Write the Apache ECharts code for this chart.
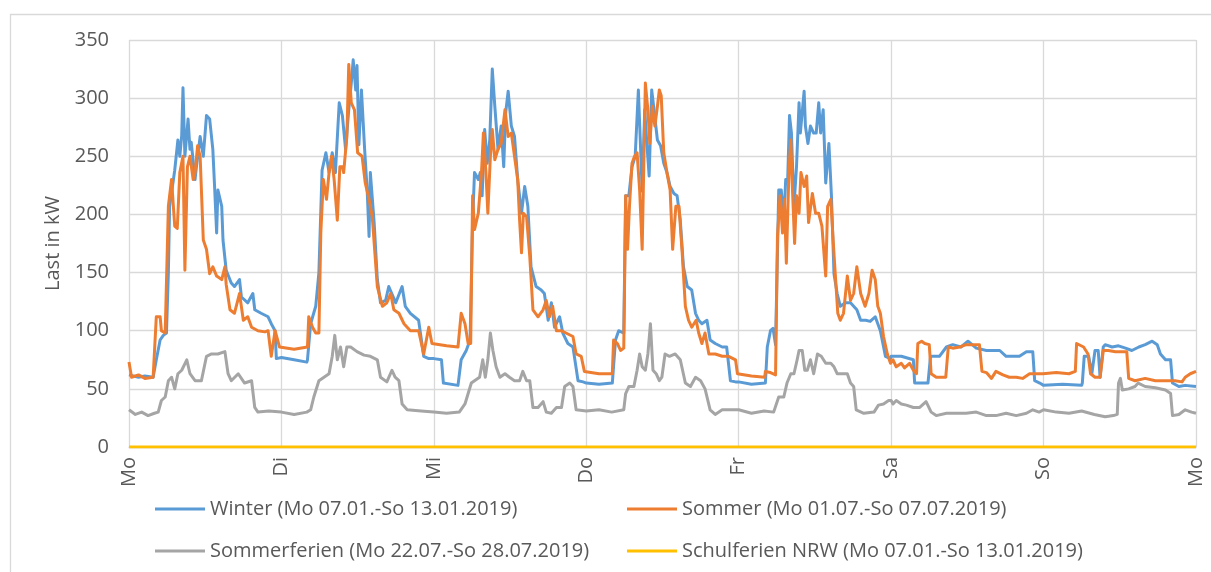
<!DOCTYPE html>
<html lang="de">
<head>
<meta charset="utf-8">
<title>Lastgang Schule</title>
<script src="https://cdn.jsdelivr.net/npm/echarts@6/dist/echarts.min.js"></script>
<style>
html,body{margin:0;padding:0;background:#fff;}
#chart{width:1211px;height:572px;}
</style>
</head>
<body>
<div id="chart"></div>
<script>
// Stunden seit Montag 0:00 -> Last in kW
var days = ['Mo', 'Di', 'Mi', 'Do', 'Fr', 'Sa', 'So', 'Mo'];

var winter = [
  [0,62],[1.5,60],[2.5,61],[3.8,60],[4.3,75],[4.9,92],[5.4,96],[5.9,98],[6.2,150],[6.4,207],[7.2,238],[7.7,264],[8.0,250],[8.3,268],[8.5,309],[8.8,250],[9.3,282],[9.6,256],[9.8,262],[10.4,230],[10.6,240],[11.2,267],[11.7,250],[12.2,285],[12.7,282],[13.2,256],[13.5,221],[13.8,184],[14.0,221],[14.6,207],[14.8,178],[15.3,152],[16.1,141],[16.6,138],[17.4,144],[17.7,129],[18.7,124],[19.5,132],[19.8,118],[20.8,115],[21.9,112],[22.4,106],[23.0,100],[23.2,76],
  [24,77],[26,75],[28,73],[28.1,75],[28.6,106],[29.4,121],[29.9,150],[30.4,238],[31.0,253],[31.5,236],[32.0,253],[32.5,236],[33.1,296],[33.6,285],[34.1,256],[34.6,290],[35.0,313],[35.3,333],[35.7,307],[35.9,328],[36.2,260],[36.6,307],[37.1,256],[37.5,221],[37.8,181],[38.0,236],[38.6,193],[39.1,144],[39.6,124],[40.4,126],[40.9,138],[42.0,124],[43.0,138],[43.5,121],[44.3,115],[45.6,109],[46.4,78],[47.2,76],
  [48,76],[49.2,75],[49.5,55],[51.8,53],[52.3,75],[53.1,83],[53.7,92],[54.1,193],[54.4,236],[55.0,230],[55.3,236],[55.6,216],[56.0,273],[56.4,244],[56.8,264],[57.2,325],[57.6,293],[58.1,256],[58.6,276],[59.0,241],[59.3,287],[59.7,306],[60.2,276],[60.7,267],[61.2,230],[61.8,201],[62.3,224],[62.8,207],[63.3,155],[64.1,138],[64.9,135],[65.4,132],[66.0,109],[66.5,124],[67.0,103],[67.8,112],[68.3,98],[69.1,89],[69.9,86],[70.7,57],[71.5,56],
  [72,55],[74,54],[76.1,55],[76.6,92],[77.1,100],[77.9,98],[78.2,216],[78.7,216],[79.2,241],[79.7,250],[80.2,307],[80.5,264],[80.8,220],[81.2,290],[81.6,256],[81.9,233],[82.3,307],[82.6,293],[83.2,264],[83.7,259],[84.2,244],[84.7,236],[85.2,224],[85.8,218],[86.3,216],[86.8,195],[87.3,155],[87.9,138],[88.6,135],[89.2,115],[89.7,109],[90.2,106],[91.0,109],[91.5,92],[92.3,89],[93.4,86],[94.1,86],[94.7,57],[95.5,56],
  [96,56],[98,54],[100.2,55],[100.5,86],[101.0,100],[101.4,102],[101.8,88],[102.3,221],[102.7,221],[103.1,195],[103.4,230],[103.7,228],[104.0,285],[104.3,270],[104.7,207],[105.1,241],[105.5,296],[105.7,270],[106.3,306],[106.5,276],[106.9,261],[107.3,276],[107.8,270],[108.2,270],[108.6,296],[108.9,270],[109.3,290],[109.7,227],[110.2,261],[110.6,216],[111.0,149],[111.5,132],[112.0,121],[112.8,124],[113.6,124],[114.6,118],[115.2,109],[116.0,109],[116.7,108],[117.5,112],[118.3,100],[119.1,78],[119.9,76],
  [120,78],[121.6,78],[123.5,75],[123.7,55],[125.8,55],[126.2,78],[127.6,78],[128.7,86],[129.7,88],[131.0,86],[132.1,91],[133.4,85],[135.0,83],[137.1,83],[138.1,78],[140.2,78],[141.3,82],[142.3,82],[142.6,57],[143.4,55],
  [144,53],[147,54],[150,53],[150.1,55],[150.4,78],[151.1,78],[151.6,63],[152.1,83],[152.6,83],[152.9,60],[153.4,86],[153.7,88],[154.8,86],[155.8,87],[156.9,85],[157.9,83],[159.0,86],[160.0,88],[161.1,91],[161.9,88],[162.4,80],[163.2,75],[164.0,75],[164.3,55],[165.3,52],[166.3,53],[168,52]
];

var sommer = [
  [0,73],[0.4,60],[1.5,62],[2.5,59],[3.8,60],[4.3,112],[4.9,112],[5.1,100],[5.7,98],[6.0,99],[6.2,207],[6.7,230],[7.2,190],[7.6,188],[8.0,236],[8.5,250],[8.8,152],[9.2,241],[9.6,250],[10.1,230],[10.4,236],[10.8,259],[11.2,250],[11.7,178],[12.2,170],[12.7,149],[13.2,155],[13.8,147],[14.6,144],[15.1,155],[15.3,140],[15.9,118],[16.6,115],[17.4,132],[18.0,109],[18.7,112],[19.3,103],[20.3,100],[21.4,99],[21.9,100],[22.4,78],[23.0,100],[23.7,86],
  [24,85],[26,84],[28.1,86],[28.3,112],[28.9,103],[29.4,98],[29.9,98],[30.2,184],[30.6,230],[31.1,213],[31.5,236],[31.9,250],[32.3,230],[32.8,195],[33.2,241],[33.6,241],[33.8,236],[34.3,267],[34.6,329],[35.0,296],[35.5,290],[36.0,253],[36.7,250],[37.2,227],[37.8,213],[38.3,198],[39.1,138],[39.9,121],[40.6,124],[41.2,132],[41.7,118],[42.5,115],[43.3,106],[44.3,100],[45.6,100],[46.4,80],[47.2,103],[47.7,89],
  [48,88],[50,87],[51.8,86],[52.3,115],[52.9,106],[53.4,89],[53.8,89],[54.1,216],[54.4,187],[55.0,201],[55.5,236],[55.8,270],[56.2,236],[56.5,201],[56.9,250],[57.2,273],[57.6,247],[58.1,256],[58.6,261],[59.2,290],[59.7,267],[60.2,270],[60.7,250],[61.2,230],[61.5,195],[61.8,167],[62.1,201],[62.6,198],[63.1,164],[63.6,118],[64.4,112],[65.2,118],[65.7,126],[66.2,112],[66.7,121],[67.3,100],[68.1,100],[68.8,98],[69.9,95],[70.4,80],[71.2,78],[71.7,65],
  [72,65],[74,63],[76.1,63],[76.3,92],[76.9,89],[77.4,83],[77.9,85],[78.2,216],[78.5,170],[78.8,207],[79.2,244],[79.6,250],[80.0,253],[80.4,221],[80.8,170],[81.1,256],[81.3,313],[81.7,290],[82.0,261],[82.4,293],[82.8,276],[83.2,293],[83.5,307],[83.8,302],[84.2,253],[84.7,236],[85.2,221],[85.6,170],[86.1,207],[86.6,207],[87.1,167],[87.6,121],[88.1,109],[88.6,103],[89.3,109],[89.7,98],[90.2,89],[90.7,98],[91.3,80],[92.3,80],[93.4,78],[94.4,78],[95.5,75],[95.8,63],
  [96,63],[98,61],[100.1,60],[100.2,65],[101.0,64],[101.8,62],[102.1,181],[102.5,216],[102.9,184],[103.2,213],[103.5,158],[103.9,236],[104.2,264],[104.4,230],[104.8,175],[105.1,216],[105.5,201],[105.8,236],[106.3,224],[106.7,233],[107.0,193],[107.6,218],[108.1,201],[108.6,201],[109.1,190],[109.7,147],[110.0,207],[110.5,213],[110.9,175],[111.2,149],[111.6,115],[112.0,109],[112.5,115],[113.1,147],[113.6,126],[114.1,132],[114.6,155],[115.2,132],[115.9,121],[116.5,132],[117.0,152],[117.5,144],[117.9,121],[118.3,115],[118.8,95],[119.4,80],[119.9,72],
  [120.3,75],[120.8,69],[121.6,72],[122.1,68],[122.9,72],[123.5,66],[124.0,63],[124.2,89],[124.8,91],[125.3,89],[126.0,88],[126.3,63],[127.1,60],[127.9,60],[128.6,60],[129.0,86],[129.7,85],[130.8,86],[131.8,88],[132.9,88],[133.9,88],[134.3,65],[135.0,64],[135.8,59],[136.5,65],[137.6,62],[138.6,60],[139.7,60],[140.7,59],[141.8,63],[142.8,63],[143.9,63],
  [146,64],[148,63],[149.0,65],[149.2,89],[150.3,86],[151.0,80],[151.4,63],[152.1,60],[152.9,60],[153.4,83],[154.2,83],[155.3,82],[157.1,82],[157.4,59],[158.4,57],[160.0,59],[161.6,57],[163.2,57],[164.7,57],[165.8,56],[166.3,60],[167.1,63],[168,65]
];

var sommerferien = [
  [0,32],[1,28],[2,30],[3,27],[4,29],[4.6,30],[5.1,40],[5.7,43],[6.2,57],[6.7,60],[7.2,50],[7.7,63],[8.3,66],[9.1,75],[9.6,63],[10.4,57],[11.4,57],[12.2,78],[13.0,80],[14.0,80],[15.1,82],[15.6,63],[16.1,57],[17.2,63],[18.2,55],[19.3,57],[19.8,34],[20.3,30],[22,31],
  [24,30],[26,28],[28,30],[28.6,32],[29.1,43],[29.9,57],[30.7,60],[31.5,63],[32.0,78],[32.4,96],[32.8,75],[33.3,86],[33.8,69],[34.3,86],[34.9,86],[35.9,82],[37.0,79],[38.0,78],[39.1,75],[39.6,60],[40.6,56],[41.4,66],[41.9,60],[42.5,57],[43.0,37],[43.8,32],[46,31],
  [48,30],[50,29],[52,30],[52.9,37],[53.4,46],[53.9,55],[54.4,57],[55.2,60],[55.7,75],[56.1,60],[56.5,75],[56.9,98],[57.3,83],[57.8,69],[58.4,60],[59.2,63],[59.9,60],[60.7,57],[61.5,57],[62.0,65],[62.6,57],[63.1,57],[63.6,34],[64.4,34],[65.2,39],[65.7,30],[66.5,29],[67.3,34],[68.1,34],[68.6,52],[69.4,55],[69.9,52],[70.4,32],
  [72,31],[74,32],[76,30],[77.9,32],[78.2,46],[78.7,52],[79.5,52],[80.0,66],[80.4,80],[80.8,69],[81.3,66],[81.7,80],[82.1,106],[82.5,66],[83.0,63],[83.5,57],[83.9,60],[84.4,80],[85.1,78],[86.0,80],[86.8,75],[87.6,55],[88.4,52],[89.2,60],[90.0,57],[90.7,50],[91.5,32],[92.3,28],[93.4,32],
  [96,32],[98,29],[100,31],[101.5,30],[102.3,43],[103.1,43],[103.6,55],[104.2,63],[104.7,63],[105.2,75],[105.5,83],[106.0,83],[106.4,66],[106.8,66],[107.3,75],[107.8,63],[108.4,80],[109.0,78],[109.7,72],[110.5,72],[111.0,69],[111.5,63],[113.1,63],[113.6,55],[114.1,52],[114.5,32],[115.7,29],[117.3,30],[118.0,36],[118.8,37],[119.6,40],
  [120,40],[120.3,37],[120.8,40],[121.6,37],[122.4,36],[123.5,34],[124.5,34],[125.5,39],[126.3,30],[127.1,27],[128.7,29],[130.2,29],[131.8,29],[133.4,30],[135.0,27],[136.5,27],[138.1,29],[139.7,27],[141.3,29],[142.3,32],[143.3,30],
  [144,32],[146,30],[148,29],[150,31],[152,28],[153.7,26],[155.0,27],[155.6,28],[155.8,55],[156.1,59],[156.4,49],[157.4,50],[158.4,52],[158.9,55],[160.0,52],[161.6,51],[163.2,49],[164.0,46],[164.3,27],[165.3,28],[166.3,32],[167.3,30],[168,29]
];

var schulferien = [[0,0],[168,0]];

var chart = echarts.init(document.getElementById('chart'));
var grau = '#595959';
var schrift = 'Open Sans';

function legende(name, left, top) {
  return {
    data: [name], left: left, top: top,
    icon: 'rect', itemWidth: 50, itemHeight: 3, itemGap: 0,
    textStyle: {fontFamily: schrift, fontSize: 20, color: grau}
  };
}

function linie(name, color, data, z) {
  return {
    name: name, type: 'line', data: data, z: z,
    symbol: 'none', showSymbol: false,
    lineStyle: {width: 3, color: color, join: 'round'},
    itemStyle: {color: color}
  };
}

chart.setOption({
  animation: false,
  graphic: [{
    type: 'rect', left: 8, top: 12, z: -10,
    shape: {width: 1300, height: 700},
    style: {fill: 'none', stroke: '#D9D9D9', lineWidth: 1.3}
  }],
  grid: {left: 129, right: 15, top: 40, bottom: 125},
  legend: [
    legende('Winter (Mo 07.01.-So 13.01.2019)', 150, 494),
    legende('Sommer (Mo 01.07.-So 07.07.2019)', 622, 494),
    legende('Sommerferien (Mo 22.07.-So 28.07.2019)', 150, 536),
    legende('Schulferien NRW (Mo 07.01.-So 13.01.2019)', 622, 536)
  ],
  xAxis: {
    type: 'value', min: 0, max: 168, interval: 24,
    axisLine: {show: true, lineStyle: {color: '#D9D9D9', width: 1.3}},
    axisTick: {show: false},
    splitLine: {show: true, lineStyle: {color: '#D9D9D9', width: 1.3}},
    axisLabel: {
      rotate: 90, margin: 10,
      fontFamily: schrift, fontSize: 20, color: grau,
      formatter: function (v) { return days[Math.round(v / 24)]; }
    }
  },
  yAxis: {
    type: 'value', min: 0, max: 350, interval: 50,
    name: 'Last in kW', nameLocation: 'middle', nameGap: 64,
    nameTextStyle: {fontFamily: schrift, fontSize: 20, color: grau},
    axisLine: {show: false},
    axisTick: {show: false},
    splitLine: {show: true, lineStyle: {color: '#D9D9D9', width: 1.3}},
    axisLabel: {margin: 20, fontFamily: schrift, fontSize: 20, color: grau}
  },
  series: [
    linie('Winter (Mo 07.01.-So 13.01.2019)', '#5B9BD5', winter, 2),
    linie('Sommer (Mo 01.07.-So 07.07.2019)', '#ED7D31', sommer, 3),
    linie('Sommerferien (Mo 22.07.-So 28.07.2019)', '#A5A5A5', sommerferien, 4),
    linie('Schulferien NRW (Mo 07.01.-So 13.01.2019)', '#FFC000', schulferien, 5)
  ]
});
</script>
</body>
</html>
